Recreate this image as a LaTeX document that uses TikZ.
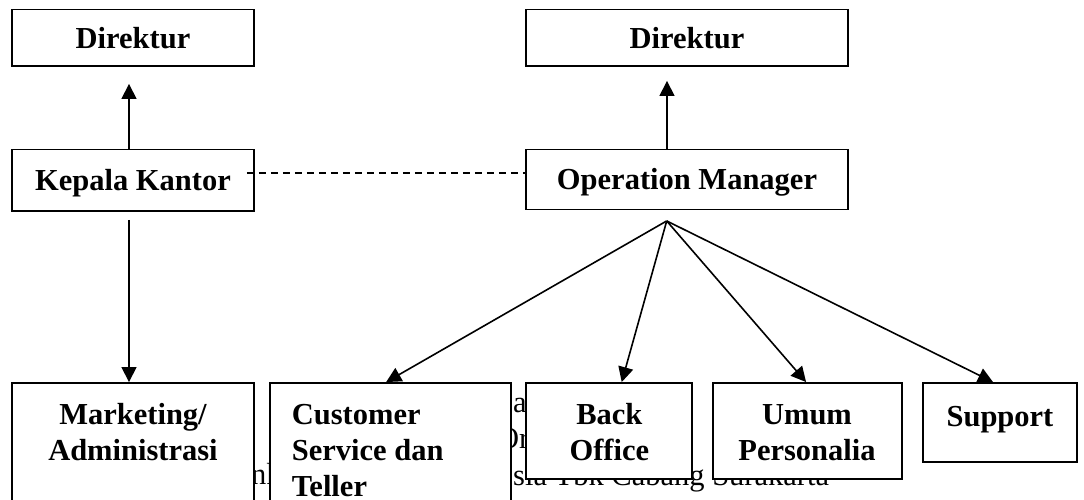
\documentclass[tikz,border=0pt]{standalone}
\usepackage{fontspec}
\setmainfont{Liberation Serif}
\usetikzlibrary{arrows.meta}
% stacked lines whose baseline is that of the first line
\newcommand\centerlines[1]{\vtop{\halign{\hfil##\hfil\cr#1\crcr}}}
\newcommand\leftlines[1]{\vtop{\halign{##\hfil\cr#1\crcr}}}
\begin{document}
\begin{tikzpicture}[x=1pt,y=-1pt,
  box/.style={draw, line width=1.9pt, fill=white, inner sep=0pt},
  txt/.style={font=\fontsize{30.5}{36}\selectfont\bfseries, inner sep=0pt},
  single/.style={box, txt, text height=20.8pt, text depth=0pt},
  note/.style={font=\fontsize{30.5}{36}\selectfont, inner sep=0pt, anchor=base west},
  link/.style={line width=1.6pt},
  arr/.style={link, -{Triangle[length=15pt,width=15pt]}},
  ]
\path[use as bounding box] (0,0) rectangle (1084,499);
\clip (0,0) rectangle (1084,499);

% caption lines lying behind the lower boxes
\node[note] (capA) at (513,412) {a};
\node[note] (capB) at (497,448) {Or};
\node[note] (capC) at (251,484) {nk};
\node[note] (capD) at (513,485) {sia Tbk Cabang Surakarta};

% upper boxes
\node[single, minimum width=242pt, minimum height=56.5pt] (dirL) at (133,37.75) {Direktur};
\node[single, minimum width=322pt, minimum height=56.5pt] (dirR) at (687,37.75) {Direktur};
\node[single, minimum width=242pt, minimum height=61.5pt] (kk) at (133,180.25) {Kepala Kantor};
\node[single, minimum width=322pt, minimum height=60pt] (om) at (687,179.5) {Operation Manager};

% lower boxes
\node[box, minimum width=242pt, minimum height=127pt] (mkt) at (133,446.5) {};
\node[box, minimum width=241pt, minimum height=127pt] (cs) at (390.15,446.5) {};
\node[box, minimum width=166pt, minimum height=96pt] (bo) at (609.4,431) {};
\node[box, minimum width=189pt, minimum height=96pt] (um) at (807.1,431) {};
\node[box, minimum width=154pt, minimum height=79pt] (sup) at (1000,422.5) {};

\node[txt, anchor=base] (mktT) at (133,424) {\centerlines{Marketing/\cr Administrasi}};
\node[txt, anchor=base west] (csT) at (291.7,424) {\leftlines{Customer\cr Service dan\cr Teller}};
\node[txt, anchor=base] (boT) at (609.4,424) {\centerlines{Back\cr Office}};
\node[txt, anchor=base] (umT) at (807,424) {\centerlines{Umum\cr Personalia}};
\node[txt, anchor=base] (supT) at (1000,426) {Support};

% connectors
\draw[arr, shorten >=17pt] ([xshift=-4pt]kk.north) -- ([xshift=-4pt]dirL.south);
\draw[arr, shorten >=14pt] ([xshift=-20pt]om.north) -- ([xshift=-20pt]dirR.south);
\draw[arr, shorten <=8pt] ([xshift=-4pt]kk.south) -- ([xshift=-4pt]mkt.north);
\draw[link, dash pattern=on 7pt off 5pt] ([xshift=-8pt,yshift=7.5pt]kk.east) -- ([yshift=7.5pt]kk.east -| om.west);
\coordinate (hub) at ([xshift=-20.3pt,yshift=-10.5pt]om.south);
\draw[arr] (hub) -- ([xshift=-4pt]cs.north);
\draw[arr] (hub) -- ([xshift=12.3pt]bo.north);
\draw[arr] (hub) -- ([xshift=-1pt]um.north);
\draw[arr] (hub) -- ([xshift=-7pt]sup.north);
\end{tikzpicture}
\end{document}
